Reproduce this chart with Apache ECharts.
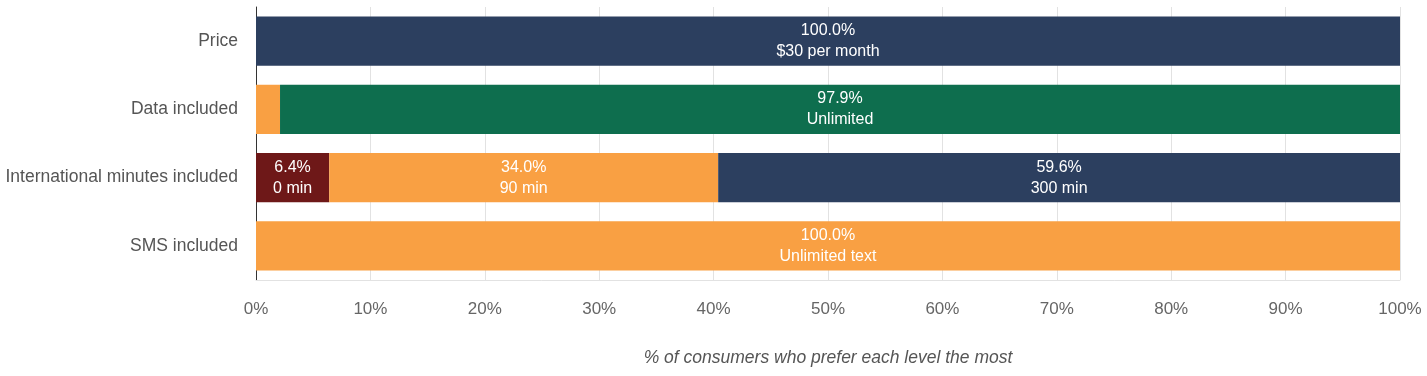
<!DOCTYPE html>
<html>
<head>
<meta charset="utf-8">
<script src="https://cdn.jsdelivr.net/npm/echarts@6/dist/echarts.min.js"></script>
<style>
  html, body { margin: 0; padding: 0; background: #fff; }
  #chart { width: 1427px; height: 376px; }
</style>
</head>
<body>
<div id="chart"></div>
<script>
// attributes (top to bottom)
const categories = ['Price', 'Data included', 'International minutes included', 'SMS included'];

// one entry per level; values per attribute (null = not a level of that attribute)
const levelNames = ['$30 per month', 'Limited', 'Unlimited', '0 min', '90 min', '300 min', 'Unlimited text'];
const price = [100.0, null, null, null];
const dataLimited = [null, 2.1, null, null];
const dataUnlimited = [null, 97.9, null, null];
const intl0 = [null, null, 6.4, null];
const intl90 = [null, null, 34.0, null];
const intl300 = [null, null, 59.6, null];
const smsUnlimited = [null, null, null, 100.0];

const levelValues = [price, dataLimited, dataUnlimited, intl0, intl90, intl300, smsUnlimited];
const levelColors = ['#2c3f5f', '#f9a043', '#0e6e4e', '#6e1818', '#f9a043', '#2c3f5f', '#f9a043'];

const FONT = 'Liberation Sans, Arial, sans-serif';

const chart = echarts.init(document.getElementById('chart'));

const series = levelNames.map((name, i) => ({
    name: name,
    type: 'bar',
    stack: 'total',
    barCategoryGap: '28%',
    data: levelValues[i],
    itemStyle: { color: levelColors[i] },
    label: {
        show: true,
        position: 'inside',
        color: '#fff',
        fontFamily: FONT,
        fontSize: 16,
        lineHeight: 21,
        formatter: function (p) {
            if (p.value == null || p.value < 3) return '';
            return p.value.toFixed(1) + '%\n' + name;
        }
    }
}));

const option = {
    animation: false,
    grid: { left: 256, right: 27, top: 7, bottom: 96 },
    xAxis: {
        type: 'value',
        min: 0,
        max: 100,
        interval: 10,
        name: '% of consumers who prefer each level the most',
        nameLocation: 'middle',
        nameGap: 69,
        nameTextStyle: { color: '#555', fontSize: 17.5, fontStyle: 'italic', fontFamily: FONT },
        axisLine: { show: true, lineStyle: { color: '#e2e2e2', width: 1 } },
        axisTick: { show: false },
        axisLabel: {
            color: '#666',
            fontSize: 17,
            fontFamily: FONT,
            margin: 21,
            formatter: '{value}%'
        },
        splitLine: { show: true, lineStyle: { color: '#e2e2e2', width: 1 } }
    },
    yAxis: {
        type: 'category',
        inverse: true,
        data: categories,
        axisLine: { show: true, lineStyle: { color: '#333', width: 1 } },
        axisTick: { show: false },
        axisLabel: { color: '#555', fontSize: 17.5, fontFamily: FONT, margin: 18 }
    },
    series: series
};

chart.setOption(option);
</script>
</body>
</html>
